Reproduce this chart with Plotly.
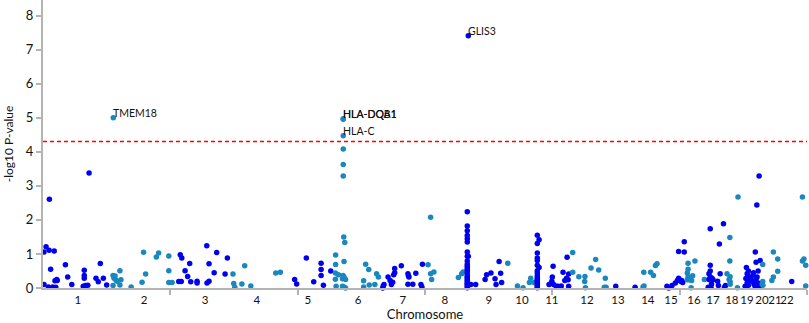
import plotly.graph_objects as go

# ---------------- data ----------------
chrom_labels = [str(i) for i in range(1, 23)]
# cumulative genomic position (Mb) of each chromosome label
chrom_label_pos = [137, 397, 636, 840, 1040, 1237, 1413, 1578, 1751, 1881, 1998,
                   2136, 2258, 2375, 2466, 2556, 2631, 2705, 2764, 2823, 2874, 2921]

boundary_ticks = [500, 1000, 1500, 2000, 2500, 3000]
threshold = 4.3

chr1_pos = [25, 12, 4, 24, 44, 30, 4, 21, 38, 47, 54, 88, 97, 113, 162, 162, 162, 158, 167, 176, 225, 208, 217, 237, 250, 181, 50, 56]
chr1_p = [2.61, 1.21, 1.06, 1.11, 1.09, 0.55, 0.10, 0.03, 0.03, 0.21, 0.25, 0.68, 0.32, 0.10, 0.52, 0.37, 0.29, 0.05, 0.07, 0.08, 0.72, 0.29, 0.18, 0.29, 0.09, 3.38, 0.02, 0.22]

chr2_pos = [276, 275, 279, 283, 287, 291, 302, 306, 275, 302, 346, 389, 395, 403, 445, 454, 494, 494, 494, 507]
chr2_p = [5.00, 0.37, 0.29, 0.35, 0.23, 0.20, 0.51, 0.24, 0.07, 0.09, 0.03, 0.17, 1.05, 0.41, 0.91, 1.03, 0.94, 0.51, 0.16, 0.16]

chr3_pos = [539, 545, 576, 558, 568, 533, 543, 580, 605, 605, 643, 652, 644, 652, 682, 672, 724, 715]
chr3_p = [0.98, 0.88, 0.72, 0.51, 0.34, 0.19, 0.19, 0.18, 0.20, 0.15, 1.24, 0.71, 0.15, 0.20, 1.04, 0.45, 0.88, 0.41]

chr4_pos = [746, 749, 753, 781, 792, 816, 914, 932]
chr4_p = [0.41, 0.13, 0.02, 0.12, 0.65, 0.06, 0.44, 0.46]

chr5_pos = [988, 996, 1034, 1063, 1092, 1092, 1092, 1101, 1130]
chr5_p = [0.25, 0.12, 0.88, 0.18, 0.73, 0.54, 0.37, 0.08, 0.50]

chr6_pos = [1179, 1179, 1179, 1179, 1179, 1179, 1149, 1149, 1148, 1160, 1148, 1151, 1181, 1185, 1182,
            1178, 1182, 1176, 1188, 1176, 1182, 1188, 1259, 1259, 1267, 1279, 1281, 1303, 1310, 1317]
chr6_p = [4.97, 4.96, 4.47, 4.08, 3.63, 3.29, 0.97, 0.69, 0.44, 0.39, 0.26, 0.05, 1.50, 1.34, 0.78,
          0.37, 0.32, 0.27, 0.25, 0.05, 0.03, 0.00, 0.21, 0.03, 0.70, 0.54, 0.09, 0.10, 0.42, 0.32]

chr7_pos = [1334, 1336, 1339, 1355, 1363, 1368, 1373, 1377, 1381, 1381, 1407, 1433, 1437, 1435, 1433, 1452, 1464, 1484, 1488, 1490]
chr7_p = [0.00, 0.06, 0.10, 0.32, 0.22, 0.10, 0.17, 0.39, 0.45, 0.57, 0.65, 0.42, 0.32, 0.36, 0.11, 0.11, 0.43, 0.10, 0.03, 0.70]

chr8_pos = [1522, 1512, 1522, 1535, 1526, 1631, 1644, 1650]
chr8_p = [2.08, 0.68, 0.42, 0.47, 0.25, 0.31, 0.42, 0.47]

chr9_pos = [1670, 1666, 1666, 1666, 1666, 1666, 1666, 1666, 1666, 1666, 1666, 1666, 1666, 1666, 1666, 1666, 1666, 1666, 1666,
            1666, 1666, 1666, 1666, 1666, 1670, 1680, 1699, 1736, 1742, 1759, 1775, 1779, 1791, 1797, 1801]
chr9_p = [7.41, 2.24, 1.82, 1.68, 1.54, 1.45, 1.35, 1.06, 0.93, 0.79, 0.70, 0.64, 0.58, 0.52, 0.44, 0.36, 0.32, 0.28, 0.23,
          0.18, 0.14, 0.10, 0.05, 0.01, 0.93, 0.10, 0.10, 0.25, 0.39, 0.44, 0.27, 0.10, 0.78, 0.43, 0.16]

chr10_pos = [1825, 1863, 1885, 1910, 1915, 1928]
chr10_p = [0.73, 0.06, 0.01, 0.16, 0.29, 0.16]

chr11_pos = [1941, 1948, 1941, 1941, 1941, 1941, 1941, 1948, 1941, 1941, 1941, 1941, 1941, 1941, 1941, 1941, 1941, 1941, 1941,
             1987, 2003, 2000, 1998, 2005, 2015, 2022, 2035, 2042, 2049, 2056, 2062, 2064, 2058, 2064]
chr11_p = [1.55, 1.42, 1.31, 1.03, 0.88, 0.81, 0.67, 0.60, 0.51, 0.44, 0.36, 0.30, 0.26, 0.21, 0.17, 0.12, 0.08, 0.04, 0.01,
           0.10, 0.64, 0.32, 0.20, 0.10, 0.05, 0.05, 0.06, 0.46, 0.22, 0.29, 0.24, 0.41, 0.90, 0.05]

chr12_pos = [2080, 2080, 2104, 2128, 2127, 2130, 2152, 2170, 2182, 2208, 2204, 2211]
chr12_p = [1.04, 0.46, 0.33, 0.34, 0.19, 0.01, 0.59, 0.84, 0.53, 0.29, 0.02, 0.02]

chr13_pos = [2249, 2325]
chr13_p = [0.05, 0.02]

chr14_pos = [2356, 2360, 2359, 2386, 2397, 2405, 2411]
chr14_p = [0.03, 0.06, 0.46, 0.46, 0.37, 0.66, 0.71]

chr15_pos = [2450, 2457, 2470, 2483, 2491, 2496, 2496, 2505, 2508, 2512, 2518, 2518]
chr15_p = [0.05, 0.00, 0.07, 0.15, 0.22, 0.29, 1.07, 0.19, 0.22, 0.16, 1.36, 1.06]

chr16_pos = [2533, 2530, 2533, 2530, 2537, 2547, 2545, 2560, 2551, 2597, 2533, 2540]
chr16_p = [0.73, 0.44, 0.32, 0.24, 0.24, 0.22, 0.01, 0.79, 0.36, 0.25, 0.55, 0.30]

chr17_pos = [2620, 2620, 2615, 2620, 2615, 2627, 2631, 2612, 2623, 2656, 2659, 2649, 2652, 2672, 2676, 2680, 2620, 2625]
chr17_p = [1.74, 0.67, 0.42, 0.32, 0.25, 0.29, 0.24, 0.02, 0.02, 1.29, 0.42, 0.20, 0.07, 1.89, 0.02, 0.07, 0.50, 0.12]

chr18_pos = [2697, 2697, 2686, 2698, 2694, 2698, 2698, 2729, 2727]
chr18_p = [1.48, 0.79, 0.42, 0.33, 0.25, 0.18, 0.11, 2.67, 0.01]

chr19_pos = [2757, 2762, 2770, 2765, 2768, 2760, 2772, 2765, 2770, 2762, 2780, 2784, 2788, 2792, 2796, 2800, 2804, 2808,
             2812, 2816, 2797, 2800, 2816, 2803, 2812, 2790, 2808]
chr19_p = [0.05, 0.60, 0.50, 0.42, 0.35, 0.28, 0.22, 0.15, 0.08, 0.02, 0.30, 0.20, 0.38, 0.12, 0.05, 0.25, 0.32, 0.15,
           0.02, 0.10, 1.06, 0.76, 0.81, 2.44, 3.29, 0.45, 0.50]

chr20_pos = [2826, 2826, 2824, 2827, 2868, 2885, 2885, 2868, 2862]
chr20_p = [0.69, 0.19, 0.12, 0.08, 1.06, 0.85, 0.49, 0.32, 0.22]

chr21_pos = [2940]
chr21_p = [0.19]

chr22_pos = [2982, 2982, 2988, 2995, 2995]
chr22_p = [2.67, 0.79, 0.85, 0.67, 0.06]

gene_names = ["TMEM18", "HLA-DQA1", "HLA-DQB1", "HLA-C", "GLIS3"]
gene_pos = [276, 1179, 1179, 1179, 1670]
gene_p = [5.00, 4.97, 4.96, 4.47, 7.41]

odd_color = "#0000f0"
even_color = "#1a87bf"

# ---------------- figure ----------------
all_pos = [chr1_pos, chr2_pos, chr3_pos, chr4_pos, chr5_pos, chr6_pos, chr7_pos, chr8_pos, chr9_pos, chr10_pos, chr11_pos,
           chr12_pos, chr13_pos, chr14_pos, chr15_pos, chr16_pos, chr17_pos, chr18_pos, chr19_pos, chr20_pos, chr21_pos, chr22_pos]
all_p = [chr1_p, chr2_p, chr3_p, chr4_p, chr5_p, chr6_p, chr7_p, chr8_p, chr9_p, chr10_p, chr11_p,
         chr12_p, chr13_p, chr14_p, chr15_p, chr16_p, chr17_p, chr18_p, chr19_p, chr20_p, chr21_p, chr22_p]

fig = go.Figure()
for i, (xs, ys) in enumerate(zip(all_pos, all_p)):
    fig.add_trace(go.Scatter(
        x=xs, y=ys, mode="markers", cliponaxis=False, showlegend=False,
        marker=dict(size=5.5, color=odd_color if i % 2 == 0 else even_color, line=dict(width=0)),
        name="chr" + chrom_labels[i]))

fig.add_hline(y=threshold, line=dict(color="#ff0000", width=1.5, dash="4px,3px"))

for name, x, y in zip(gene_names, gene_pos, gene_p):
    fig.add_annotation(x=x, y=y, text=name, showarrow=False, xanchor="left", yanchor="middle",
                       xshift=-2, yshift=5, font=dict(size=10.5, color="#111", family="Lato, sans-serif"))

axis_grey = "#b4b4b4"
fig.update_layout(
    width=809, height=323,
    margin=dict(l=43, r=2, t=0, b=35, autoexpand=False),
    paper_bgcolor="white", plot_bgcolor="white",
    font=dict(family="Lato, sans-serif", size=12, color="#111"),
    xaxis=dict(range=[0, 3000], showgrid=False, zeroline=False, showline=True, linecolor=axis_grey, linewidth=2,
               tickmode="array", tickvals=chrom_label_pos, ticktext=chrom_labels, ticks="",
               tickangle=0, automargin=False, tickfont=dict(size=11.5),
               minor=dict(tickmode="array", tickvals=boundary_ticks, ticks="outside", ticklen=5,
                          tickcolor=axis_grey, tickwidth=1.5, showgrid=False),
               title=dict(text="Chromosome", font=dict(size=13), standoff=2)),
    yaxis=dict(range=[0, 8.46], showgrid=False, zeroline=False, showline=True, linecolor=axis_grey, linewidth=2,
               tickmode="linear", tick0=0, dtick=1, ticks="outside", ticklen=5, tickcolor=axis_grey, tickwidth=1.5,
               automargin=False, tickfont=dict(size=13),
               title=dict(text="-log10 P-value", font=dict(size=12), standoff=10)),
)

fig.write_html("out.html", config={"displayModeBar": False})

# remove the browser's default page margin so the figure sits at the window's corner
with open("out.html", "r", encoding="utf-8") as f:
    html = f.read()
html = html.replace("<body>", '<body style="margin:0;padding:0;overflow:hidden">', 1)
with open("out.html", "w", encoding="utf-8") as f:
    f.write(html)
